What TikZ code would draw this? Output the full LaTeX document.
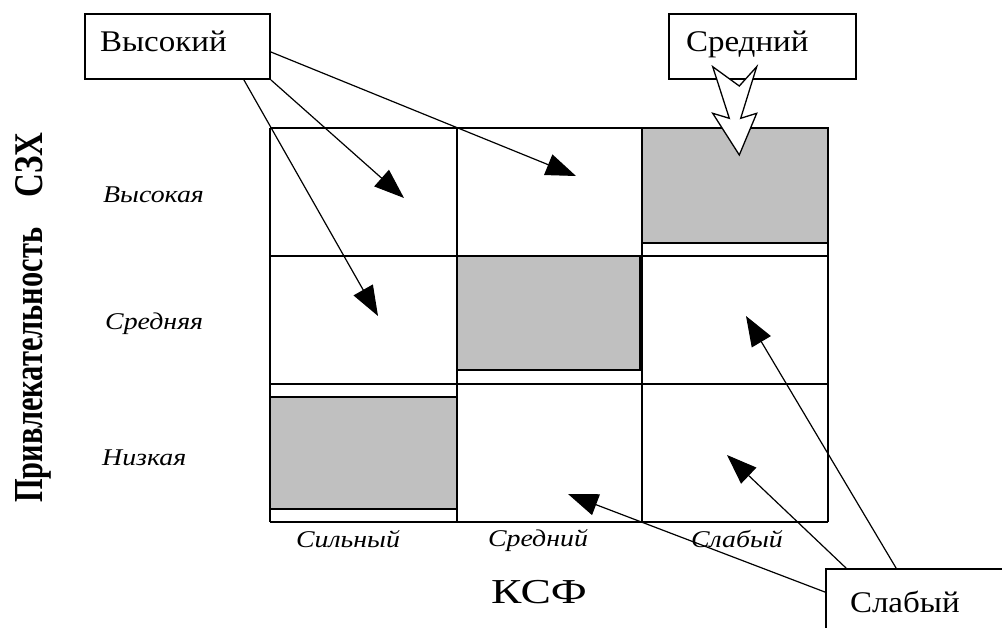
\documentclass[tikz,border=0pt]{standalone}
\usepackage{fontspec}
\setmainfont{Liberation Serif}
\newfontfamily\boxfont[FakeStretch=1.1]{Liberation Serif}
\newfontfamily\labfont[FakeStretch=1.16]{Liberation Serif}
\newfontfamily\ksffont[FakeStretch=1.3]{Liberation Serif}
\usetikzlibrary{arrows.meta,calc}
\definecolor{boxgray}{RGB}{192,192,192}
\begin{document}
\begin{tikzpicture}[x=1pt,y=-1pt,
  gridline/.style={line width=2pt},
  shadebox/.style={fill=boxgray,draw=black,line width=2pt},
  lbl/.style={draw=black,line width=1.8pt,fill=white,inner ysep=0pt,
    text height=38pt,text depth=27pt,align=left,
    font=\boxfont\fontsize{30}{36}\selectfont},
  rowlab/.style={inner sep=0pt,font=\labfont\itshape\fontsize{24}{28}\selectfont},
  arr/.style={line width=1.2pt,-{Triangle[length=30pt,width=22pt]}},
  bigarrow/.style={fill=white,draw=black,line width=1.3pt,line join=miter}]
\fill[white] (0,0) rectangle (1002,628);
\useasboundingbox (0,0) rectangle (1002,628);
% grid
\foreach \yy in {128,256,384,522} \draw[gridline] (270,\yy) -- (828,\yy);
\foreach \xx in {270,457,642,828} \draw[gridline] (\xx,128) -- (\xx,522);
% shaded cells
\draw[shadebox] (642,128) rectangle (828,243);
\draw[shadebox] (457,256) rectangle (642,370);
\draw[line width=3.5pt] (641,256) -- (641,370);
\draw[shadebox] (270,397) rectangle (457,509);
% label boxes
\node[lbl,inner xsep=15pt,text width=155pt] (hi) at (177.5,46.5) {Высокий};
\node[lbl,inner xsep=17pt,text width=153pt] (md) at (762.5,46.5) {Средний};
\node[lbl,inner xsep=24pt,text width=146pt,text height=43pt,text depth=37pt] (sl) at (923,609) {Слабый};
% row labels
\node[rowlab,anchor=base west] (r1) at (103,203) {Высокая};
\node[rowlab,anchor=base west] (r2) at (105,330) {Средняя};
\node[rowlab,anchor=base west] (r3) at (102,465) {Низкая};
% column labels
\node[rowlab,anchor=base] (c1) at (348,547) {Сильный};
\node[rowlab,anchor=base] (c2) at (538,546) {Средний};
\node[rowlab,anchor=base] (c3) at (737,547) {Слабый};
% axis titles
\node[inner sep=0pt,anchor=base,font=\ksffont\fontsize{35}{40}\selectfont] (ksf) at (539,603) {КСФ};
\node[inner sep=0pt,rotate=90,anchor=base west] (ya) at (42,503) {\resizebox{275pt}{27pt}{\bfseries Привлекательность}};
\node[inner sep=0pt,rotate=90,anchor=base west] (yb) at (42,198) {\resizebox{65pt}{27pt}{\bfseries СЗХ}};
% arrow targets
\coordinate (t1) at (576,176);
\coordinate (t2) at (404,198);
\coordinate (t3) at (378,316);
\coordinate (t4) at (746,316);
\coordinate (t5) at (727,455);
\coordinate (t6) at (568,494);
% arrows
\draw[arr] ([yshift=-5.5pt]hi.east) -- (t1);
\draw[arr] (hi.south east) -- (t2);
\draw[arr] ([xshift=-27pt]hi.south east) -- (t3);
\draw[arr] ([xshift=71pt]sl.north west) -- (t4);
\draw[arr] ([xshift=21pt]sl.north west) -- (t5);
\draw[arr] ([yshift=-24pt]sl.north west) -- (t6);
% hollow block arrow from "Средний"
\draw[bigarrow] (712.7,66.7) -- (739.3,86) -- (756.7,66.7) -- (740.7,118.3)
  -- (756.7,113.3) -- (739.3,155) -- (712.7,113.3) -- (729.3,118.3) -- cycle;
\end{tikzpicture}
\end{document}
